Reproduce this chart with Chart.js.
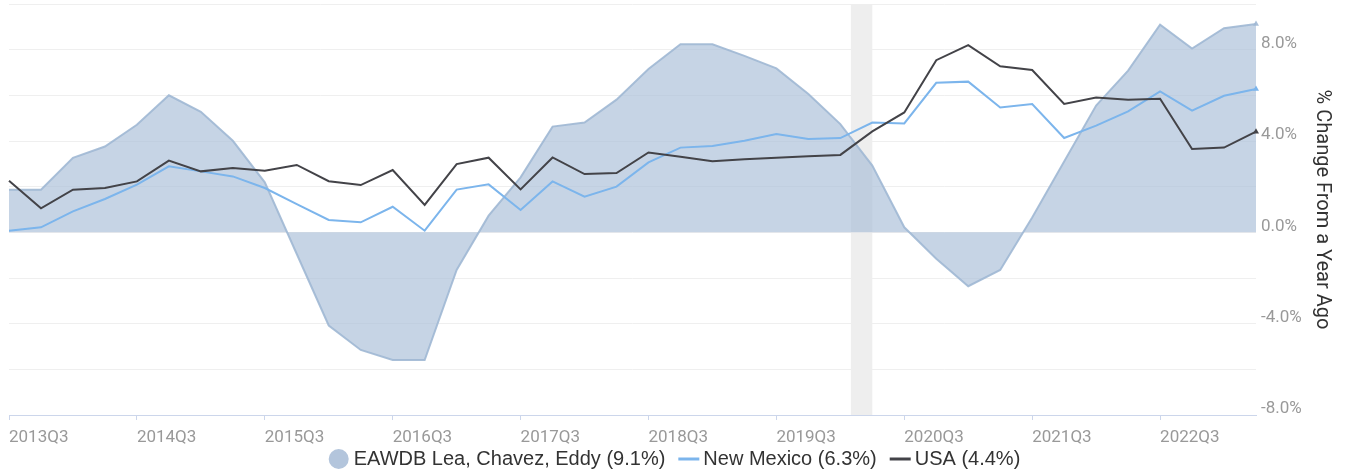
<!DOCTYPE html>
<html>
<head>
<meta charset="utf-8">
<script src="https://cdn.jsdelivr.net/npm/chart.js@4"></script>
<style>
  html, body { margin: 0; padding: 0; background: #fff; }
</style>
</head>
<body>
<canvas id="chart" width="1349" height="473"></canvas>
<script>
// === DATA ===
const quarters = [
  '2013Q3', '2013Q4', '2014Q1', '2014Q2', '2014Q3', '2014Q4', '2015Q1', '2015Q2',
  '2015Q3', '2015Q4', '2016Q1', '2016Q2', '2016Q3', '2016Q4', '2017Q1', '2017Q2',
  '2017Q3', '2017Q4', '2018Q1', '2018Q2', '2018Q3', '2018Q4', '2019Q1', '2019Q2',
  '2019Q3', '2019Q4', '2020Q1', '2020Q2', '2020Q3', '2020Q4', '2021Q1', '2021Q2',
  '2021Q3', '2021Q4', '2022Q1', '2022Q2', '2022Q3', '2022Q4', '2023Q1', '2023Q2'
];

const eawdb = [
  1.87, 1.87, 3.26, 3.76, 4.71, 6.00, 5.28, 4.01, 2.19, -0.95,
  -4.08, -5.15, -5.59, -5.59, -1.65, 0.73, 2.41, 4.63, 4.81, 5.81,
  7.15, 8.24, 8.24, 7.73, 7.18, 6.06, 4.74, 2.92, 0.22, -1.16,
  -2.36, -1.65, 0.65, 3.10, 5.55, 7.08, 9.09, 8.05, 8.94, 9.12
];

const newMexico = [
  0.07, 0.22, 0.92, 1.46, 2.09, 2.89, 2.67, 2.45, 1.94, 1.24,
  0.54, 0.44, 1.12, 0.07, 1.87, 2.10, 0.98, 2.23, 1.56, 2.00,
  3.06, 3.71, 3.78, 4.01, 4.31, 4.09, 4.13, 4.81, 4.77, 6.55,
  6.60, 5.47, 5.62, 4.13, 4.67, 5.30, 6.17, 5.33, 5.98, 6.28
];

const usa = [
  2.26, 1.05, 1.87, 1.94, 2.23, 3.14, 2.67, 2.82, 2.70, 2.95,
  2.24, 2.07, 2.73, 1.20, 2.99, 3.27, 1.88, 3.28, 2.55, 2.60,
  3.50, 3.31, 3.11, 3.20, 3.27, 3.33, 3.39, 4.42, 5.25, 7.54,
  8.20, 7.27, 7.11, 5.62, 5.90, 5.81, 5.85, 3.65, 3.71, 4.41
];

const seriesNames = ['EAWDB Lea, Chavez, Eddy (9.1%)', 'New Mexico (6.3%)', 'USA (4.4%)'];

// recession shading, in quarter-index units (Feb 2020 .. Apr 2020)
const recessionStart = 26.33;
const recessionEnd = 27.0;

// === COLOURS ===
const AREA_FILL = 'rgba(168,190,215,0.66)';
const AREA_LINE = 'rgba(160,184,212,0.9)';
const NM_COLOR = '#7cb5ec';
const USA_COLOR = '#434348';

// only the last point gets a small marker
const lastOnly = r => ctx => (ctx.dataIndex === quarters.length - 1 ? r : 0);

// === RECESSION BAND ===
const recessionBand = {
  id: 'recessionBand',
  beforeDatasetsDraw(chart) {
    const { ctx, chartArea, scales } = chart;
    const x0 = scales.x.getPixelForValue(recessionStart);
    const x1 = scales.x.getPixelForValue(recessionEnd);
    ctx.save();
    ctx.fillStyle = '#eeeeee';
    ctx.fillRect(x0, chartArea.top, x1 - x0, chartArea.bottom - chartArea.top);
    ctx.restore();
  }
};

// === LEGEND (drawn on the canvas, below the x axis) ===
const bottomLegend = {
  id: 'bottomLegend',
  afterDraw(chart) {
    const ctx = chart.ctx;
    const y = 459;
    ctx.save();
    ctx.font = '20px "Liberation Sans", Arial, sans-serif';
    ctx.textBaseline = 'middle';
    const items = chart.data.datasets.map((ds, i) => ({
      text: ds.label,
      marker: i === 0 ? 'circle' : 'line',
      color: i === 0 ? '#b3c5dc' : ds.borderColor,
      markW: i === 0 ? 20 : 21,
      gap: i === 0 ? 5 : 4,
      textW: ctx.measureText(ds.label).width
    }));
    const spacing = 13;
    let total = 0;
    items.forEach((it, i) => { total += it.markW + it.gap + it.textW + (i ? spacing : 0); });
    let x = (chart.width - total) / 2;
    items.forEach(it => {
      if (it.marker === 'circle') {
        ctx.fillStyle = it.color;
        ctx.beginPath();
        ctx.arc(x + it.markW / 2, y, it.markW / 2, 0, Math.PI * 2);
        ctx.fill();
      } else {
        ctx.strokeStyle = it.color;
        ctx.lineWidth = 3;
        ctx.beginPath();
        ctx.moveTo(x, y);
        ctx.lineTo(x + it.markW, y);
        ctx.stroke();
      }
      x += it.markW + it.gap;
      ctx.fillStyle = '#333';
      ctx.fillText(it.text, x, y);
      x += it.textW + spacing;
    });
    ctx.restore();
  }
};

// === CHART ===
new Chart(document.getElementById('chart'), {
  type: 'line',
  data: {
    labels: quarters,
    datasets: [
      {
        label: seriesNames[0],
        data: eawdb,
        order: 3,
        fill: 'origin',
        backgroundColor: AREA_FILL,
        borderColor: AREA_LINE,
        borderWidth: 2,
        tension: 0,
        pointStyle: 'triangle',
        pointRadius: lastOnly(3.5),
        pointBackgroundColor: AREA_LINE,
        pointBorderWidth: 0
      },
      {
        label: seriesNames[1],
        data: newMexico,
        order: 2,
        fill: false,
        borderColor: NM_COLOR,
        backgroundColor: NM_COLOR,
        borderWidth: 2,
        tension: 0,
        pointStyle: 'triangle',
        pointRadius: lastOnly(3.5),
        pointBorderWidth: 0
      },
      {
        label: seriesNames[2],
        data: usa,
        order: 1,
        fill: false,
        borderColor: USA_COLOR,
        backgroundColor: USA_COLOR,
        borderWidth: 2,
        tension: 0,
        pointStyle: 'triangle',
        pointRadius: lastOnly(3.5),
        pointBorderWidth: 0
      }
    ]
  },
  options: {
    responsive: false,
    animation: false,
    layout: { padding: { left: 9, top: 3, right: 0, bottom: 0 } },
    plugins: {
      tooltip: { enabled: false },
      legend: { display: false }
    },
    scales: {
      x: {
        type: 'category',
        offset: false,
        afterBuildTicks: axis => {
          axis.ticks = axis.ticks.filter(t => t.value % 4 === 0);
        },
        afterFit: axis => { axis.height = 58; },
        grid: {
          display: true,
          drawOnChartArea: false,
          drawTicks: true,
          tickLength: 5,
          color: '#ccd6eb'
        },
        border: { display: true, color: '#ccd6eb', width: 1 },
        ticks: {
          align: 'start',
          autoSkip: false,
          maxRotation: 0,
          padding: 8,
          color: '#999',
          font: { family: 'Roboto', size: 17 }
        }
      },
      y: {
        position: 'right',
        min: -8,
        max: 10,
        afterFit: axis => {
          axis.width = 93;
          axis.paddingTop = 0;
          axis.paddingBottom = 0;
        },
        grid: { color: '#efefef', drawTicks: false },
        border: { display: false },
        ticks: {
          stepSize: 2,
          padding: 5,
          labelOffset: -6,
          color: '#999',
          font: { family: 'Roboto', size: 17 },
          callback: v => (v % 4 === 0 ? v.toFixed(1) + '%' : '')
        },
        title: {
          display: true,
          text: '% Change From a Year Ago',
          color: '#333',
          font: { family: 'Roboto', size: 20 },
          padding: { top: 15, bottom: 0 }
        }
      }
    }
  },
  plugins: [recessionBand, bottomLegend]
});
</script>
</body>
</html>
